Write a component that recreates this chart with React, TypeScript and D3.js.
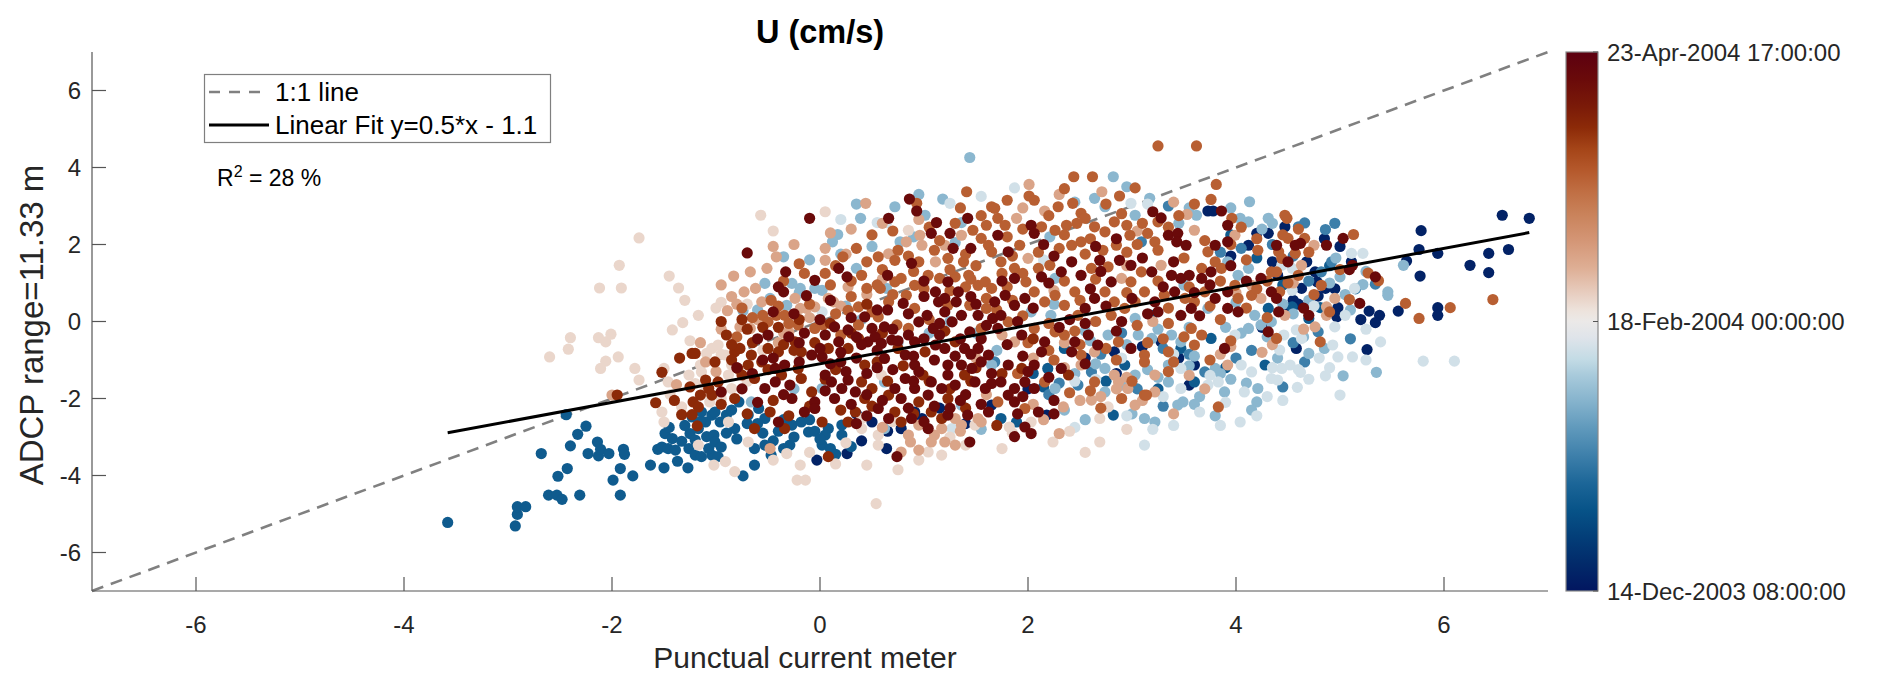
import React from "react";
import * as d3 from "d3";

// ---------- data ----------
const axisDomain: [number, number] = [-7, 7];
const xTicks = [-6, -4, -2, 0, 2, 4, 6];
const yTicks = [-6, -4, -2, 0, 2, 4, 6];
const titleText = "U (cm/s)";
const xLabel = "Punctual current meter";
const yLabel = "ADCP range=11.33 m";
const legendLabels = ["1:1 line", "Linear Fit y=0.5*x - 1.1"];
const fitSlope = 0.5;
const fitIntercept = -1.1;
const r2Percent = 28;

// colour bar (time, as fraction of the record)
const timeTickPos = [0, 0.5, 1];
const timeTickLabels = ["14-Dec-2003 08:00:00", "18-Feb-2004 00:00:00", "23-Apr-2004 17:00:00"];
const vikPos = [0, 0.05, 0.1, 0.15, 0.2, 0.25, 0.3, 0.35, 0.4, 0.43, 0.47, 0.5, 0.52, 0.55, 0.6, 0.65, 0.7, 0.74, 0.78, 0.82, 0.86, 0.9, 0.95, 1];
const vikColors = ["#021660", "#022a6a", "#033e78", "#075388", "#1c6698", "#3d7faa", "#5e98bb", "#84b2cc", "#a8cadb", "#c3dbe5", "#dfe4ea", "#ebe9e8", "#ede3dc", "#e8cfc2", "#deae94", "#d49676", "#c9825a", "#c06f44", "#b5592c", "#a54518", "#8c2a08", "#7a1a08", "#6a0a0a", "#5c0010"];

// scatter points grouped by time (x, y pairs, flat)
const ptsT03 = [0.50,-2.61,0.91,-2.35,0.98,-2.52,1.65,-2.17,0.78,-2.78,-0.03,-3.60,0.26,-3.43,0.64,-3.30,
3.73,2.87,3.78,2.87,4.20,2.29,4.31,2.29,4.12,1.98,3.28,-0.53,2.83,-0.79,3.60,-1.13,2.18,-2.43,
6.56,2.76,6.82,2.68,5.78,2.36,5.76,1.87,5.94,1.77,5.64,1.57,6.43,1.77,6.62,1.87,6.25,1.46,6.43,1.27,5.77,1.18,
5.94,0.36,5.94,0.16,5.56,0.27,5.38,0.16,5.34,-0.03,5.28,0.27,5.26,-0.73,5.11,1.55,4.47,2.46,4.68,1.55,4.76,1.29,
4.78,1.03,4.86,0.86,4.79,0.66,4.98,0.36,4.97,0.12,4.55,0.55,4.63,0.86,4.58,-0.70,
0.40,-3.10,1.15,-2.25,0.35,-2.40,3.10,-0.65,2.55,-0.95,3.95,1.70,4.35,1.55,3.55,-1.65,2.00,-1.75,
4.50,0.30,4.95,0.85,5.20,0.05,4.85,2.15,
2.85,-1.35,3.45,-0.95,4.25,-0.15,4.60,0.45,5.00,1.95,4.40,1.20,1.40,-2.65,0.65,-2.85];
const ptsT17 = [-3.58,-5.22,-2.93,-5.31,-2.91,-5.01,-2.91,-4.81,-2.83,-4.81,-2.61,-4.51,-2.53,-4.51,-2.48,-4.62,-2.31,-4.51,-1.92,-4.51,
-2.52,-4.02,-2.43,-3.82,-1.99,-4.12,-1.92,-3.82,-1.80,-4.01,-2.68,-3.43,-2.40,-3.23,-2.33,-2.93,-2.25,-2.72,-2.23,-3.43,
-2.14,-3.13,-2.13,-3.49,-2.11,-3.32,-2.03,-3.43,-1.89,-3.32,-1.88,-3.45,-2.44,-2.42,-1.63,-3.73,-1.50,-3.80,-1.37,-3.63,
-1.27,-3.80,-1.56,-3.32,-1.49,-2.91,-1.42,-3.04,-1.33,-3.11,-1.26,-3.30,-1.20,-3.47,-1.14,-3.51,-1.04,-3.47,-1.52,-3.26,
-1.46,-3.30,-1.39,-3.34,-1.25,-2.91,-1.17,-2.78,-1.10,-2.61,-1.04,-2.43,-1.14,-2.35,-1.09,-2.99,-1.02,-2.95,-1.20,-3.08,
-1.07,-3.30,-1.23,-2.48,-1.30,-2.70,-1.45,-2.75,-1.15,-2.60,
-1.01,-2.35,-0.96,-2.61,-0.90,-2.43,-0.82,-2.78,-0.78,-2.09,-0.69,-2.43,-0.59,-2.26,-0.53,-2.52,-0.27,-2.69,-0.18,-2.61,
-0.11,-2.87,0.08,-2.78,0.21,-2.95,0.21,-2.69,-1.01,-3.13,-0.95,-3.26,-0.98,-3.51,-0.63,-3.30,-0.53,-3.21,-0.29,-3.21,
-0.47,-3.47,0.02,-3.21,0.10,-3.30,-0.63,-3.73,-0.74,-4.01,
-0.85,-2.30,-0.70,-2.65,-0.40,-2.85,-0.25,-3.00,0.05,-2.95,-0.55,-2.90,-0.80,-3.05,-0.35,-3.30,0.15,-3.45,-0.90,-2.90,
-0.45,-3.10,-0.10,-2.55,-0.05,-2.85,0.30,-3.25,-0.60,-2.65,-0.35,-2.55,0.00,-3.05,
3.19,0.16,4.31,0.34,3.76,-0.44,2.35,-0.70,3.47,-0.70,2.19,-1.22,2.93,-1.13,4.28,-1.13,3.60,-1.57,1.74,-2.52,1.89,-2.61,2.82,-2.43,
2.05,-1.35,2.75,-1.55,3.25,-1.75,4.20,1.65,3.95,2.25,2.15,-1.70,3.90,-1.20,4.45,0.95,4.90,1.45,
4.81,0.36,4.70,0.08,4.54,0.38];
const ptsT25 = [3.09,2.07,4.05,1.90,2.61,-1.31,3.70,-1.31,2.48,-1.65,1.68,-1.05,
2.90,-0.30,3.55,-0.85,4.15,-0.75,2.30,-1.60,3.85,1.80,4.35,2.00,3.30,-2.20,4.00,-0.95,
2.70,-0.85,3.30,-0.70,3.05,-1.75,4.45,-1.70,4.70,1.05,5.15,0.85,4.55,1.70,4.95,2.55,3.35,3.00,2.20,-1.90,
5.34,0.97,4.92,1.55,4.86,2.39,4.66,2.56,4.60,2.46,4.82,1.29,4.79,-0.27,4.66,-1.05,4.55,-0.55,5.10,-0.45];
const ptsT36 = [1.44,4.26,1.18,3.18,0.72,2.98,0.39,2.68,1.01,2.76,0.17,2.26,0.12,2.07,1.36,2.57,-0.35,1.68,0.35,1.38,0.77,2.07,
-0.53,0.99,-0.48,0.60,-0.27,0.99,-0.19,0.86,0.02,0.81,-0.05,0.86,0.64,0.86,-0.74,0.28,-0.32,0.42,1.65,-1.13,0.02,-1.74,
0.62,-1.57,-0.66,-2.09,1.36,-2.17,0.62,-2.78,
-0.10,1.60,0.50,1.95,0.25,0.40,-0.60,0.30,1.25,0.00,0.75,-0.55,1.50,-0.30,-0.25,-1.75,1.55,-2.80,0.95,3.30,0.35,3.05,
0.90,2.20,1.30,2.05,0.20,1.75,-0.20,0.75,0.40,0.05,1.05,-0.30,
2.82,3.76,3.17,3.20,2.64,3.20,2.74,2.98,4.13,3.11,3.62,2.76,3.03,2.76,2.21,2.20,4.04,2.68,4.12,2.59,4.31,2.68,3.92,1.55,
4.02,1.20,4.12,1.38,2.26,1.12,2.03,0.25,2.22,0.16,3.03,0.08,3.73,0.34,4.18,0.16,2.77,-0.35,3.06,-0.35,3.19,-0.44,
3.38,-0.35,3.47,-0.53,4.12,-0.18,4.24,-0.09,4.34,-0.01,2.74,-1.22,3.03,-1.39,3.35,-1.13,3.80,-1.22,2.26,-1.74,2.74,-1.83,
3.35,-1.57,3.89,-1.83,4.21,-1.74,3.12,-2.52,3.22,-2.61,3.44,-2.17,3.49,-2.09,4.20,-2.09,
2.45,3.10,3.45,2.55,3.95,2.95,4.25,2.40,2.25,0.45,2.60,-0.50,3.25,-0.20,3.55,-0.15,3.90,-0.15,4.30,-0.40,2.45,-1.35,
3.15,-1.25,3.55,-1.15,3.95,-1.50,2.90,-1.65,3.65,-1.95,3.80,-2.45,2.55,-2.55,1.70,-0.75,4.00,0.50,3.50,0.95,
2.55,-0.25,2.95,-0.60,3.60,-0.90,4.05,-0.30,2.65,-1.10,3.25,-1.45,3.85,-1.35,4.10,-1.60,2.35,-2.30,3.00,-2.40,
3.60,-2.15,4.15,-2.30,4.40,-0.95,4.55,0.20,4.85,-0.70,5.10,0.30,5.25,1.30,4.35,2.55,3.55,2.95,2.95,3.50,
5.61,1.46,5.35,-1.32,5.03,-1.41,5.46,0.77,5.46,0.68,5.22,0.96,5.00,1.16,4.96,1.65,4.70,-0.83,
4.45,0.45,4.70,0.55,4.90,1.00,5.05,0.70,4.65,-0.40];
const ptsT45 = [1.25,3.07,0.55,2.57,0.64,2.57,0.02,0.25,1.27,-2.78,
1.87,3.47,2.99,3.07,3.99,-0.35,3.47,-1.22,4.05,-1.13,4.15,-1.31,4.34,-1.48,3.47,-1.74,3.73,-1.65,3.83,-1.57,4.08,-1.83,
4.04,-2.61,3.12,-3.21,
2.15,1.60,3.15,3.05,2.65,-1.50,3.30,-1.95,3.90,-2.10,4.30,-1.95,2.95,-2.45,3.65,-2.35,4.20,-2.45,3.40,-2.70,
2.90,-0.95,3.40,-0.85,3.75,-1.40,4.35,-1.20,2.45,-2.75,3.20,-2.80,3.85,-2.70,4.45,-2.05,4.60,-1.25,4.90,-1.20,
5.25,-1.00,4.75,0.40,0.20,2.65,1.55,3.25,2.45,-1.55,
5.39,-0.53,4.98,-0.92,5.12,-0.92,4.86,-1.41,5.00,-1.91,5.80,-1.03,6.10,-1.03,4.93,-0.61,5.14,0.86,5.11,1.77,5.22,1.77,
4.44,1.46,4.54,1.38,4.54,0.81,5.05,0.16,4.95,-0.14,4.58,-0.22,4.63,-0.44,4.46,-0.35,4.42,-0.74,4.52,-1.13,4.44,-1.22,
4.62,-1.32,4.40,-1.52,4.59,-1.71,4.80,-0.95,5.25,-0.20,4.70,-1.50];
const ptsT54 = [-1.74,2.17,-1.93,1.46,-2.12,0.87,-1.91,0.87,-1.45,1.18,-1.36,0.87,-1.17,0.16,-1.32,-0.03,-1.42,-0.22,
-2.40,-0.42,-2.42,-0.72,-2.60,-0.92,-2.13,-0.42,-2.06,-0.53,-2.01,-0.33,-1.94,-0.92,-2.06,-1.03,-2.11,-1.22,-1.78,-1.22,
-1.74,-1.52,-1.50,-1.22,-1.46,-1.57,-1.26,-1.39,-1.20,-1.61,-1.14,-1.31,-1.09,-0.83,-1.04,-0.70,-1.44,-1.90,-1.33,-2.22,
-1.52,-2.35,-1.50,-2.61,-1.17,-3.21,-1.02,-3.73,-1.10,-1.83,-1.06,-2.09,-1.15,-1.13,-1.25,-0.50,-1.00,0.35,-1.30,0.55,
-0.57,2.76,0.85,2.37,-0.98,-0.61,-0.91,-0.87,-0.85,-1.13,-0.88,-1.39,-0.85,-1.74,0.59,-1.39,-0.88,-2.61,0.40,-2.78,
0.56,-2.95,1.49,-2.69,-0.91,-3.64,-0.69,-3.13,-0.32,-3.43,-0.19,-3.73,0.45,-3.73,0.56,-3.21,1.04,-3.39,1.40,-3.21,
1.17,-3.47,-0.82,-3.90,-0.22,-4.12,-0.14,-4.12,0.54,-4.73,0.40,-2.52,
-0.95,0.50,-0.70,0.45,-0.80,-0.65,-0.55,-0.75,-0.20,-0.90,0.10,-1.55,0.70,-2.60,0.25,-3.15,-0.10,-3.40,1.25,-3.00,
0.95,-3.60,-0.95,-2.00,-0.55,-0.05,-0.95,-0.85,-0.70,-1.55,-0.45,-3.60,0.15,-3.70,0.75,-3.85,-0.45,2.35,0.05,2.85,
1.82,-2.74,2.03,-2.61,2.69,-2.52,2.77,-2.22,2.24,-3.13,2.69,-3.13,1.75,-3.30,1.85,-2.90,2.40,-2.85,2.95,-2.80,2.55,-3.40];
const ptsT62 = [-2.00,-1.91,-1.38,-1.64,-1.10,-1.05,-1.15,-0.55,-1.00,-1.30,
0.44,3.07,-0.42,1.68,-0.51,1.38,0.05,1.90,0.05,1.59,0.83,2.07,0.98,1.98,0.96,2.24,1.36,2.24,1.20,1.98,1.11,1.55,0.66,1.76,
-0.83,1.18,-0.67,1.29,-0.73,0.77,-0.62,0.86,-0.24,0.60,0.08,0.60,0.27,0.90,-0.89,0.28,-0.77,-0.14,-0.56,0.51,-0.19,0.34,
-0.13,0.34,-0.05,0.38,0.13,0.51,-0.67,-0.18,-0.30,-0.27,1.30,-2.52,1.52,-2.52,0.95,-2.69,1.17,-2.78,1.36,-2.69,1.55,-2.61,
-0.48,-3.30,0.78,-3.39,0.87,-3.13,0.95,-3.34,1.07,-3.13,1.20,-3.13,1.30,-3.21,
-0.85,0.65,-0.95,0.95,-0.60,0.05,-0.40,-0.55,0.20,0.40,-0.10,0.10,0.60,1.10,0.30,2.40,0.10,2.30,-0.25,2.00,0.95,2.65,
-0.95,-0.20,1.50,-0.95,1.60,-1.90,1.10,-2.95,0.60,-2.75,
0.25,1.75,0.60,2.55,-0.45,1.95,-0.80,0.45,-0.35,-0.30,0.45,0.70,1.35,-2.85,0.85,-2.95,
2.01,3.56,2.71,3.37,2.16,2.87,3.53,2.78,1.89,2.68,3.60,2.37,3.99,2.24,2.00,1.64,3.28,1.46,2.90,1.12,4.15,0.94,4.24,0.60,
1.87,-0.53,2.64,-0.79,2.51,-1.13,2.83,-1.39,3.22,-1.39,3.92,-1.13,2.87,-1.57,2.96,-1.74,3.22,-1.83,2.30,-2.91,2.34,-2.22,
2.61,-2.04,3.03,-2.17,
1.95,2.95,2.30,3.30,3.40,3.10,2.95,1.45,2.35,-0.55,2.95,-1.45,3.55,-1.40,3.85,-0.85,2.70,-1.95,2.05,-2.15,3.40,-2.40,
4.35,-0.60,3.20,0.00,1.75,-0.35,
2.15,-2.55,2.50,-2.05,2.85,-1.75,3.10,-2.05,3.70,-1.75,3.95,-0.65,4.25,-0.80,2.35,-1.20,2.05,-0.95,2.25,0.80,3.05,2.35,
4.00,0.75,4.55,1.00,4.65,-0.20,
4.75,1.98,4.63,1.46,4.95,0.60,4.87,0.38,4.87,0.16,4.47,0.16,4.76,-0.14];
const ptsT77 = [1.41,3.37,0.93,3.07,1.60,2.50,1.65,2.98,0.22,1.68,0.56,1.68,1.47,2.37,1.55,2.16,1.62,1.98,1.65,1.81,1.23,1.64,
1.38,1.55,0.72,1.59,0.45,0.86,0.58,0.86,0.72,1.03,0.78,1.12,0.91,0.94,1.04,1.20,1.15,1.12,1.30,1.16,1.43,1.20,1.52,0.94,
1.59,1.03,1.65,0.86,0.83,0.68,-0.47,0.55,-0.55,0.16,-0.42,0.16,-0.34,0.16,0.27,0.29,0.37,0.38,0.50,0.25,0.56,0.12,
0.66,0.51,0.91,0.34,1.23,0.42,1.44,0.42,1.60,0.34,-0.50,-0.01,-0.21,-0.09,-0.05,-0.18,0.03,-0.09,0.37,-0.09,0.74,-0.09,
0.85,-0.18,1.55,-0.18,
-0.35,1.05,-0.15,1.25,0.05,1.25,0.40,1.20,0.60,1.35,0.90,1.30,1.25,1.35,1.50,1.45,0.30,0.65,0.10,0.95,0.70,0.70,
1.00,0.85,1.40,0.90,1.60,0.60,-0.65,0.10,-0.80,-0.40,-0.40,0.40,0.20,-0.35,1.05,0.05,0.35,1.90,0.75,1.85,1.05,2.45,
1.30,2.55,0.50,2.25,-0.20,1.50,1.55,2.75,
0.15,1.45,0.45,1.55,0.85,1.70,1.10,1.85,1.40,1.75,0.30,1.05,0.55,0.95,1.25,0.80,1.45,1.10,0.95,1.55,1.15,2.10,0.70,2.35,
1.35,2.95,1.75,1.25,1.85,0.55,1.70,0.30,-0.75,0.35,-0.30,-0.05,-0.10,0.45,0.15,0.20,
3.25,4.56,3.62,4.56,2.44,3.76,2.62,3.76,3.03,3.47,3.81,3.56,2.01,3.26,2.06,3.15,2.88,3.26,3.76,3.17,2.29,2.98,2.43,3.07,
2.51,2.81,3.25,2.59,1.68,2.94,1.71,2.68,1.78,2.50,2.13,2.46,2.26,2.37,2.37,2.50,2.47,2.55,2.55,2.68,2.64,2.46,2.74,2.33,
2.83,2.59,2.95,2.50,3.15,2.29,3.22,2.07,2.98,2.24,2.85,1.98,2.72,1.85,2.51,2.07,2.42,1.98,2.30,1.90,1.92,1.98,3.96,2.68,
4.21,1.85,3.73,1.81,1.74,1.55,1.87,1.38,2.10,1.38,2.21,1.46,2.61,1.38,2.77,1.42,3.09,1.29,3.67,1.38,3.86,1.38,4.34,1.29,
1.98,1.03,2.99,1.03,3.99,0.94,2.06,0.77,2.16,0.51,2.26,0.68,2.35,0.42,2.45,0.77,2.74,0.77,2.83,0.51,2.93,0.34,3.03,0.51,
3.12,0.77,3.31,0.68,3.51,0.60,3.60,0.51,3.70,0.77,4.02,0.60,4.15,0.68,2.48,0.16,2.80,0.16,1.81,-0.01,2.06,-0.18,
2.26,-0.27,2.35,-0.35,2.87,-0.53,3.57,-0.18,3.67,-0.35,2.51,-0.87,3.12,-0.87,3.35,-0.79,3.60,-0.61,3.12,-1.05,2.16,-1.57,
2.64,-1.57,3.12,-1.91,1.71,-2.09,1.97,-2.26,2.90,-2.00,3.14,-1.91,3.83,-2.22,
1.80,2.20,1.95,2.40,2.20,2.75,2.35,2.25,2.60,2.15,2.90,2.80,3.10,2.55,3.35,2.45,3.05,2.00,1.85,1.70,2.10,1.80,2.55,1.75,
2.95,1.80,3.25,1.85,3.50,1.65,3.80,1.55,4.10,1.60,1.95,1.25,2.35,1.05,2.65,1.10,3.25,1.05,3.55,0.90,3.85,1.05,4.20,0.85,
1.80,0.90,2.50,0.55,2.95,0.75,3.35,0.35,3.75,0.40,4.10,0.35,1.95,0.15,2.20,-0.05,2.65,0.00,3.05,-0.10,3.35,-0.05,
3.85,0.05,2.00,-0.55,2.45,-0.25,2.75,-0.70,3.30,-0.45,3.95,-0.50,2.25,-1.00,2.85,-1.00,3.40,-1.05,2.40,-1.85,2.70,-2.25,
1.90,-1.35,4.30,0.10,4.20,2.15,3.70,2.10,
1.80,3.15,2.35,3.45,2.75,3.05,3.45,2.75,3.60,3.05,3.95,2.00,4.05,2.45,4.30,1.05,2.50,-0.60,2.20,-0.75,3.50,-0.40,
3.15,-0.55,2.60,-1.80,3.00,-1.55,3.35,-1.30,3.75,-1.00,
6.47,0.57,6.06,0.36,5.76,0.08,5.63,0.47,5.09,0.57,5.27,1.26,5.37,1.06,5.13,2.26,4.49,2.68,4.47,2.76,4.50,2.16,4.66,2.16,
4.41,1.81,4.44,1.64,4.57,1.77,4.39,1.29,4.82,0.94,4.42,0.77,4.81,-0.53,4.39,-0.44,4.50,1.00,4.70,1.80,4.90,0.25,4.60,2.40,
4.60,1.20,4.75,0.70,5.00,1.35,4.45,2.25];
const ptsT86 = [-1.95,-1.91,-1.52,-1.32,-1.58,-2.11,-1.23,-0.83,-1.20,-0.83,-1.10,-1.52,-1.15,-1.91,-1.22,-2.09,-1.17,-2.22,
-1.33,-2.42,-1.23,-2.42,-1.18,-2.71,-1.01,-1.05,-1.04,-1.91,-1.07,-1.74,-1.35,-0.95,-1.25,-1.70,-1.40,-2.05,
-0.82,-0.79,-0.77,-0.70,-0.66,-0.87,-0.56,-1.05,-0.50,-0.70,-0.40,-0.79,-0.24,-0.53,-0.18,-0.79,0.08,-0.70,0.27,-0.70,
0.37,-0.44,0.75,-0.70,1.01,-0.79,1.30,-0.53,-0.69,-1.13,-0.79,-1.22,-0.21,-1.22,0.43,-1.13,-0.98,-1.57,-0.75,-1.39,
-0.63,-1.48,-0.37,-1.39,-0.18,-1.48,-0.08,-1.83,0.40,-1.57,0.50,-1.74,0.99,-1.39,1.39,-1.39,-0.82,-2.00,0.43,-2.00,
0.66,-1.91,0.95,-2.09,1.23,-2.00,-0.63,-2.78,-0.48,-2.35,-0.34,-2.78,0.02,-2.61,0.27,-2.61,0.34,-2.35,0.72,-2.35,
0.78,-2.61,1.07,-2.35,1.17,-2.52,0.08,-3.51,
-0.90,-0.35,-0.70,-0.20,-0.40,-0.15,-0.85,-1.00,-0.50,-1.25,-0.35,-0.60,-0.05,-0.55,0.15,-1.25,0.55,-1.05,0.80,-1.15,
1.05,-1.55,1.45,-1.55,-0.95,-2.15,-0.45,-2.05,0.20,-2.30,0.90,-2.40,-0.30,-2.45,1.40,-2.25,-0.65,-0.55,0.10,-0.05,
0.45,0.45,0.60,-0.30,1.20,-0.25,-0.20,0.05,-0.75,0.05,-0.95,0.00,
-0.85,-0.60,-0.55,-0.15,-0.25,-0.75,0.30,-0.30,0.05,-1.50,0.65,-1.55,1.25,-1.75,1.50,-1.20,-0.10,-2.20,0.50,-2.20,
-0.70,-2.40,1.75,-1.35,2.05,-0.45,1.70,-2.70,
1.94,-1.22,2.39,-1.39];
const ptsT95 = [0.86,3.18,0.93,2.87,0.66,2.68,1.12,2.57,-0.10,2.68,1.42,2.68,-0.70,1.78,-0.33,1.29,0.18,1.38,0.26,1.16,
1.07,2.29,1.25,2.29,1.28,1.90,0.88,1.51,-0.40,0.90,-0.35,0.77,-0.13,0.67,-0.05,1.07,1.23,1.03,1.11,0.77,1.20,0.60,
1.33,0.77,0.14,-0.14,0.80,0.47,0.95,-0.01,1.03,0.16,1.09,-0.18,1.14,0.51,1.31,0.51,1.36,0.16,1.52,0.16,1.66,0.08,
-0.50,-0.35,0.27,-0.22,0.43,0.12,0.50,-0.18,0.62,-0.14,1.27,-0.01,1.44,-0.27,-0.34,-1.13,-0.08,-0.87,0.02,-0.92,
0.18,-0.53,0.46,-0.53,0.53,-0.40,0.59,-0.57,0.69,-0.48,0.82,-0.87,0.91,-0.53,1.11,-0.61,1.20,-0.70,1.39,-0.70,
1.52,-0.70,1.62,-0.87,-0.43,-1.22,0.62,-0.96,0.91,-1.13,1.23,-1.13,1.36,-1.13,1.46,-1.22,-0.95,-1.83,-0.53,-1.74,
-0.43,-1.57,-0.29,-1.65,0.05,-1.39,0.11,-1.57,0.21,-1.74,0.27,-1.52,0.34,-1.83,0.72,-1.74,0.82,-1.48,0.91,-1.74,
1.07,-1.57,1.17,-1.74,1.23,-1.39,1.30,-1.65,1.49,-1.57,1.59,-1.74,1.65,-1.61,-0.27,-2.00,-0.05,-2.09,0.14,-2.00,
0.78,-2.00,1.04,-1.91,-0.40,-2.61,-0.05,-2.26,0.56,-2.26,0.66,-2.52,0.88,-2.52,1.23,-2.43,1.42,-2.43,1.62,-2.35,
1.04,-2.78,0.74,-3.51,1.44,-3.13,
-0.60,-0.45,-0.30,-0.40,-0.15,-0.30,0.05,-0.35,0.20,-0.80,0.35,-0.95,0.55,-0.75,0.70,-0.20,0.85,-0.35,1.00,-0.45,
1.15,-0.35,1.35,-0.45,1.55,-0.45,1.60,-0.10,-0.65,-1.35,-0.45,-0.95,-0.20,-1.05,0.10,-1.10,0.25,-1.30,0.45,-1.35,
0.70,-1.25,0.95,-1.30,1.10,-1.00,1.55,-1.05,1.65,-1.35,-0.75,-1.75,-0.60,-2.10,-0.15,-2.35,0.30,-2.15,0.60,-2.05,
1.10,-2.20,1.35,-2.05,1.55,-2.15,0.45,-2.45,1.00,-2.60,0.85,0.20,1.00,0.65,1.45,0.65,0.30,0.10,0.00,0.05,-0.25,0.20,
0.65,0.30,1.20,0.25,0.40,-0.60,1.45,-0.85,0.90,-0.90,
-0.20,-0.55,0.00,-0.70,0.35,-0.40,0.75,-0.50,1.30,-0.90,0.20,-1.05,0.55,-1.20,0.90,-1.55,1.40,-1.90,-0.55,-1.00,
-0.80,-1.20,-0.35,-1.90,0.05,-1.80,0.45,-1.90,0.85,-2.25,1.25,-2.25,0.35,-2.65,1.15,-0.05,0.55,0.30,1.50,0.45,
0.10,0.55,-0.45,0.25,1.00,1.05,0.65,1.20,1.45,1.90,
3.86,2.87,3.28,2.69,2.03,2.50,2.06,2.29,3.35,2.24,3.44,2.29,3.43,2.07,3.52,1.98,1.81,1.81,1.71,2.24,3.92,2.50,3.80,1.98,
3.92,2.07,2.32,1.29,2.42,1.55,2.51,1.20,2.69,1.59,2.88,1.59,2.99,1.46,3.19,1.29,3.38,1.20,3.47,1.12,3.55,1.20,3.76,1.29,
4.24,1.12,1.87,1.12,2.13,1.16,2.80,1.03,3.67,1.12,1.68,0.51,1.78,0.68,1.87,0.42,1.97,0.60,2.55,0.34,2.64,0.60,3.22,0.51,
3.41,0.77,3.80,0.60,3.92,0.77,4.34,0.77,1.74,0.16,3.47,0.16,3.57,0.34,3.92,0.34,4.02,0.25,1.71,-0.18,1.94,-0.35,
2.16,-0.53,2.45,-0.53,2.58,-0.35,2.67,-0.61,2.99,-0.70,3.89,-0.70,4.31,-0.27,2.13,-0.79,2.42,-0.79,1.81,-1.13,2.06,-1.13,
2.32,-1.22,1.74,-1.57,1.87,-1.74,1.97,-1.57,2.06,-1.74,1.81,-1.91,1.87,-2.09,2.10,-2.35,1.97,-2.74,2.03,-2.91,1.87,-2.99,
1.75,1.05,2.20,1.00,2.60,0.85,3.00,0.60,3.30,0.90,3.65,0.15,2.40,0.05,2.05,0.35,2.85,-0.25,3.15,0.20,1.80,-0.60,
2.20,-1.45,1.95,-0.90,2.55,-1.10,3.75,0.95,4.10,1.05,2.70,1.30,2.15,2.00,2.85,2.15,3.20,2.85,1.90,-2.40,2.25,-2.05,1.95,-1.95,
2.25,1.70,2.65,1.95,3.10,1.65,3.40,1.55,3.60,0.75,3.25,0.25,2.90,0.00,2.55,-0.05,2.75,0.40,2.30,-0.15,1.90,0.00,
2.00,-1.30,2.25,-2.40,3.95,1.45,
5.19,0.47,5.34,1.16,5.03,2.16,5.12,1.46,5.09,1.35,4.87,1.98,4.62,2.03,4.57,1.98,4.39,1.98,4.70,0.16,4.41,0.25,4.39,0.60,
4.50,1.55,4.65,0.35];

const pointGroups: { t: number; pts: number[] }[] = [
  { t: 0.03, pts: ptsT03 },
  { t: 0.17, pts: ptsT17 },
  { t: 0.25, pts: ptsT25 },
  { t: 0.36, pts: ptsT36 },
  { t: 0.45, pts: ptsT45 },
  { t: 0.54, pts: ptsT54 },
  { t: 0.62, pts: ptsT62 },
  { t: 0.77, pts: ptsT77 },
  { t: 0.86, pts: ptsT86 },
  { t: 0.95, pts: ptsT95 },
];

// ---------- layout ----------
const W = 1892;
const H = 688;
const M = { left: 92, right: 1548, top: 52, bottom: 591 };
const FONT = "'Liberation Sans', Arial, Helvetica, sans-serif";
const TXT = "#262626";

export default function App() {
  const x = d3.scaleLinear().domain(axisDomain).range([M.left, M.right]);
  const y = d3.scaleLinear().domain(axisDomain).range([M.bottom, M.top]);
  const color = d3.scaleLinear<string>().domain(vikPos).range(vikColors).interpolate(d3.interpolateRgb);
  const cbY = d3.scaleLinear().domain([0, 1]).range([M.bottom, M.top]);

  const points: { x: number; y: number; t: number }[] = [];
  pointGroups.forEach((g) => {
    for (let i = 0; i < g.pts.length; i += 2) points.push({ x: g.pts[i], y: g.pts[i + 1], t: g.t });
  });
  points.sort((a, b) => a.t - b.t);

  const xExt = d3.extent(points, (d) => d.x) as [number, number];
  const fitLine = d3.line<number>().x((v) => x(v)).y((v) => y(fitSlope * v + fitIntercept));
  const oneToOne = d3.line<number>().x((v) => x(v)).y((v) => y(v));

  const cb = { x0: 1566, x1: 1598 };

  return (
    <svg width={W} height={H} style={{ position: "absolute", left: 0, top: 0, background: "#fff" }} fontFamily={FONT}>
      <rect x={0} y={0} width={W} height={H} fill="#fff" />
      <defs>
        <linearGradient id="vik" x1="0" y1="1" x2="0" y2="0">
          {vikPos.map((p, i) => (
            <stop key={i} offset={p} stopColor={vikColors[i]} />
          ))}
        </linearGradient>
      </defs>

      {/* 1:1 line */}
      <path d={oneToOne(axisDomain) || ""} stroke="#808080" strokeWidth={2.6} strokeDasharray="12,8" fill="none" />

      {/* scatter */}
      <g>
        {points.map((p, i) => (
          <circle key={i} cx={x(p.x)} cy={y(p.y)} r={5.6} fill={color(p.t)} />
        ))}
      </g>

      {/* fit line */}
      <path d={fitLine(xExt) || ""} stroke="#000" strokeWidth={3} fill="none" />

      {/* axes */}
      <line x1={M.left} x2={M.left} y1={M.top} y2={M.bottom} stroke="#555" strokeWidth={1.2} />
      <line x1={M.left} x2={M.right} y1={M.bottom} y2={M.bottom} stroke="#555" strokeWidth={1.2} />
      {yTicks.map((v) => (
        <g key={"y" + v}>
          <line x1={M.left} x2={M.left + 14} y1={y(v)} y2={y(v)} stroke="#555" strokeWidth={1.2} />
          <text x={M.left - 11} y={y(v) + 8.5} textAnchor="end" fontSize={24} fill={TXT}>{v}</text>
        </g>
      ))}
      {xTicks.map((v) => (
        <g key={"x" + v}>
          <line x1={x(v)} x2={x(v)} y1={M.bottom} y2={M.bottom - 14} stroke="#555" strokeWidth={1.2} />
          <text x={x(v)} y={633} textAnchor="middle" fontSize={24} fill={TXT}>{v}</text>
        </g>
      ))}

      {/* labels */}
      <text x={(M.left + M.right) / 2} y={43} textAnchor="middle" fontSize={32.5} fontWeight="bold" fill="#000">{titleText}</text>
      <text x={805} y={668} textAnchor="middle" fontSize={30} fill={TXT}>{xLabel}</text>
      <text transform="translate(43,325) rotate(-90)" textAnchor="middle" fontSize={33} fill={TXT}>{yLabel}</text>

      {/* legend */}
      <rect x={204.5} y={74.5} width={346} height={68} fill="#fff" stroke="#7f7f7f" strokeWidth={1.2} />
      <line x1={209} x2={269} y1={92} y2={92} stroke="#808080" strokeWidth={2.6} strokeDasharray="11,9" />
      <line x1={209} x2={269} y1={125} y2={125} stroke="#000" strokeWidth={3} />
      <text x={275} y={101} fontSize={26} fill="#000">{legendLabels[0]}</text>
      <text x={275} y={134} fontSize={26} fill="#000">{legendLabels[1]}</text>

      {/* R^2 */}
      <text x={217} y={186} fontSize={23} fill="#000">
        R<tspan dy={-9} fontSize={16}>2</tspan><tspan dy={9}>{` = ${r2Percent} %`}</tspan>
      </text>

      {/* colour bar */}
      <rect x={cb.x0} y={M.top} width={cb.x1 - cb.x0} height={M.bottom - M.top} fill="url(#vik)" stroke="#8a8a8a" strokeWidth={1.2} />
      {timeTickPos.map((p, i) => (
        <g key={"c" + i}>
          <line x1={cb.x1 - 5} x2={cb.x1} y1={cbY(p)} y2={cbY(p)} stroke="#555" strokeWidth={1} />
          <text x={1607} y={cbY(p) + 8.5} fontSize={24} fill={TXT}>{timeTickLabels[i]}</text>
        </g>
      ))}
    </svg>
  );
}
